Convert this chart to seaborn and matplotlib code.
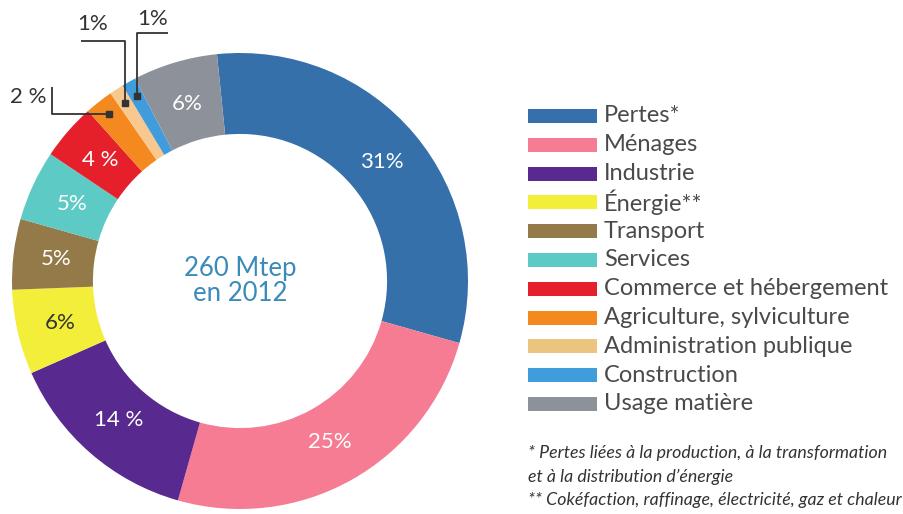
import numpy as np
import matplotlib
matplotlib.use("Agg")
import matplotlib.pyplot as plt
import seaborn as sns
from matplotlib.patches import Rectangle

categories = ["Pertes*", "Ménages", "Industrie", "Énergie**", "Transport", "Services",
              "Commerce et hébergement", "Agriculture, sylviculture",
              "Administration publique", "Construction", "Usage matière"]
values = [31, 25, 14, 6, 5, 5, 4, 2, 1, 1, 6]
pct_labels = ["31%", "25%", "14 %", "6%", "5%", "5%", "4 %", "2 %", "1%", "1%", "6%"]
colors = ["#3570AA", "#F57C93", "#58298E", "#F2EE3A", "#947A48", "#5ECAC6",
          "#E5202A", "#F3891F", "#F8C88E", "#419CDB", "#8D929A"]
legend_colors = ["#3570AA", "#F57C93", "#58298E", "#F2EE3A", "#947A48", "#5ECAC6",
                 "#E5202A", "#F3891F", "#EBC57E", "#419CDB", "#8D929A"]
label_colors = ["white", "white", "white", "#333333", "white", "white",
                "white", "#333333", "#333333", "#333333", "white"]
footnotes = ["* Pertes liées à la production, à la transformation",
             "et à la distribution d\u2019énergie",
             "** Cokéfaction, raffinage, électricité, gaz et chaleur"]
center_text = "260 Mtep\nen 2012"

sns.set_theme(style="white")
plt.rcParams['font.family'] = ['Lato', 'DejaVu Sans']

W, H = 904, 514
fig = plt.figure(figsize=(W / 100, H / 100), dpi=100)
fig.patch.set_facecolor("white")
cx, cy, R = 240, 281, 228
ax = fig.add_axes([(cx - R) / W, (H - cy - R) / H, 2 * R / W, 2 * R / H])
wedges, _ = ax.pie(values, colors=colors, startangle=95.8, counterclock=False,
                   radius=1, wedgeprops=dict(width=0.355, linewidth=0))
ax.set_xlim(-1, 1)
ax.set_ylim(-1, 1)
ax.set_aspect('equal')
ax.axis('off')


def px2d(px, py):
    return (px - cx) / R, (cy - py) / R


outside = {
    7: dict(path=[("h", 52), ("v", 87)], text=(28, 97)),
    8: dict(path=[("v", 41), ("h", 81)], text=(93, 24)),
    9: dict(path=[("v", 33), ("h", 168)], text=(153, 19)),
}

for i, w in enumerate(wedges):
    th = np.deg2rad((w.theta1 + w.theta2) / 2)
    if i in outside:
        r = 0.93
        mx, my = r * np.cos(th), r * np.sin(th)
        xs, ys = [mx], [my]
        x, y = mx, my
        for kind, val in outside[i]["path"]:
            if kind == "h":
                x = px2d(val, 0)[0]
            else:
                y = px2d(0, val)[1]
            xs.append(x)
            ys.append(y)
        ax.plot(xs, ys, color="#333333", lw=1.3, clip_on=False, solid_capstyle="butt")
        ax.plot([mx], [my], marker="s", ms=5, color="#333333", clip_on=False)
        tx, ty = px2d(*outside[i]["text"])
        ax.text(tx, ty, pct_labels[i], ha="center", va="center", fontsize=16,
                color="#333333", clip_on=False)
    else:
        r = 0.81
        ax.text(r * np.cos(th), r * np.sin(th), pct_labels[i], ha="center", va="center",
                fontsize=16, color=label_colors[i])

ax.text(0, 0, center_text, ha="center", va="center", fontsize=18.5,
        color="#3B8BBA", linespacing=1.0)

# legend
for i, (lab, col) in enumerate(zip(categories, legend_colors)):
    yc = 116 + i * 28.8
    fig.patches.append(Rectangle((528 / W, 1 - (yc + 7) / H), 69 / W, 14 / H,
                                 transform=fig.transFigure, facecolor=col,
                                 edgecolor="none"))
    fig.text(604 / W, 1 - yc / H, lab, ha="left", va="center", fontsize=17,
             color="#4A4A4A")

for j, t in enumerate(footnotes):
    fig.text(528 / W, 1 - (453 + j * 23.5) / H, t, ha="left", va="center",
             fontsize=12.8, style="italic", color="#333333")

fig.savefig("out.png", dpi=100, facecolor="white")
